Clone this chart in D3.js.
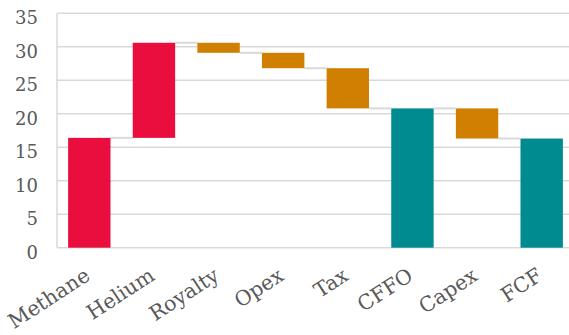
<!DOCTYPE html>
<html><head><meta charset="utf-8">
<script src="https://cdn.jsdelivr.net/npm/d3@7"></script>
<style>
html,body{margin:0;padding:0;background:#fff;}
svg{display:block;}
</style></head>
<body>
<svg id="c" width="569" height="335"></svg>
<script>
const categories = ["Methane","Helium","Royalty","Opex","Tax","CFFO","Capex","FCF"];
const values = [16.4, 14.2, -1.5, -2.3, -6.0, 20.8, -4.5, 16.3];
const kinds = ["inc","inc","dec","dec","dec","total","dec","total"];
const yTicks = [0,5,10,15,20,25,30,35];

(function(){
const colors = {inc:"#E90E3D", dec:"#D17F00", total:"#008B90"};
const svg = d3.select("#c");
const pLeft = 57, pRight = 574, pTop = 13.3, pBottom = 247.7;

const x = d3.scaleBand().domain(categories).range([pLeft, pRight]).paddingInner(0.344).paddingOuter(0.172);
const y = d3.scaleLinear().domain([0,35]).range([pBottom, pTop]);

let run = 0;
const bars = categories.map((c,i)=>{
  let y0, y1;
  if (kinds[i]==="total") { y0 = 0; y1 = values[i]; run = values[i]; }
  else { y0 = run; y1 = run + values[i]; run = y1; }
  return {c, y0, y1, kind:kinds[i], end:run};
});

svg.append("g").selectAll("line").data(yTicks).join("line")
  .attr("x1", pLeft).attr("x2", pRight)
  .attr("y1", d=>y(d)).attr("y2", d=>y(d))
  .attr("stroke", "#d9d9d9").attr("stroke-width", 1.5);
svg.append("line").attr("x1", pLeft).attr("x2", pLeft).attr("y1", pTop).attr("y2", pBottom)
  .attr("stroke", "#d9d9d9").attr("stroke-width", 1.5);

svg.append("g").selectAll("line").data(bars.slice(0,-1)).join("line")
  .attr("x1", d=>x(d.c)+x.bandwidth())
  .attr("x2", (d,i)=>x(categories[i+1]))
  .attr("y1", d=>y(d.end)).attr("y2", d=>y(d.end))
  .attr("stroke", "#d9d9d9").attr("stroke-width", 2);

svg.append("g").selectAll("rect").data(bars).join("rect")
  .attr("x", d=>x(d.c))
  .attr("width", x.bandwidth())
  .attr("y", d=>y(Math.max(d.y0,d.y1)))
  .attr("height", d=>Math.abs(y(d.y0)-y(d.y1)))
  .attr("fill", d=>colors[d.kind]);

svg.append("g").selectAll("text").data(yTicks).join("text")
  .attr("x", 38).attr("y", d=>y(d)+11)
  .attr("text-anchor","end")
  .attr("font-family","'DejaVu Serif', serif")
  .attr("font-size", 18)
  .attr("fill","#595959")
  .text(d=>d);

svg.append("g").selectAll("text").data(categories).join("text")
  .attr("text-anchor","end")
  .attr("transform", d=>`translate(${x(d)+x.bandwidth()/2+2},${279}) rotate(-33)`)
  .attr("font-family","'DejaVu Serif', serif")
  .attr("font-size", 20.5)
  .attr("fill","#595959")
  .text(d=>d);
})();
</script>
</body></html>
